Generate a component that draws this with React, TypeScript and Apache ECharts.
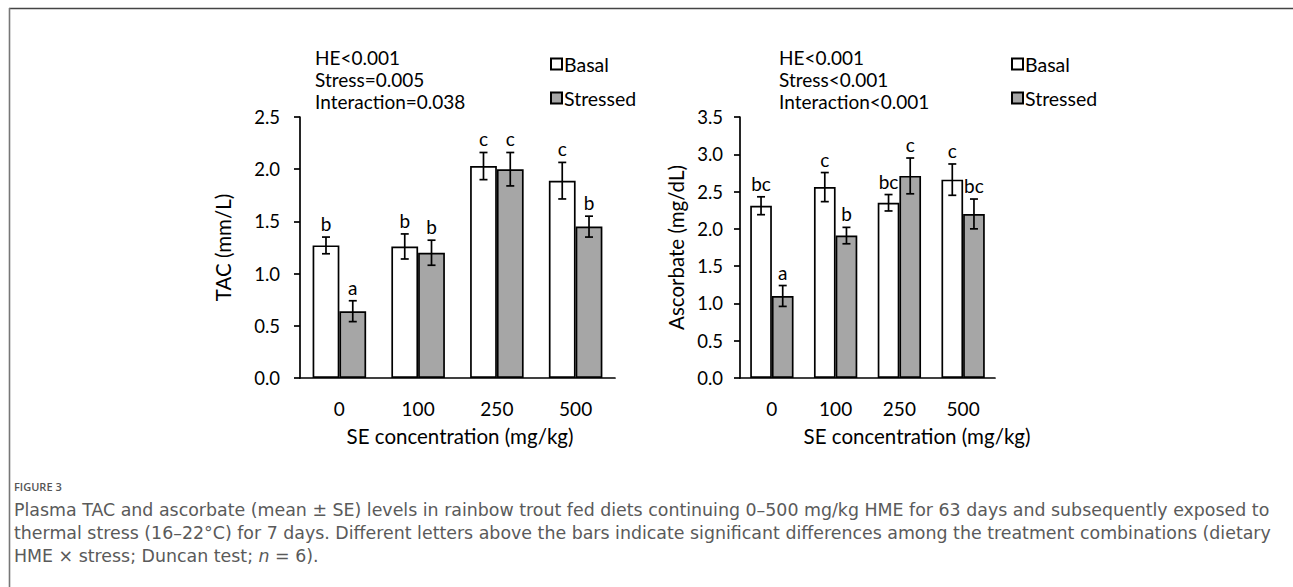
import React, { useEffect, useRef } from "react";
import * as echarts from "echarts";

const categories = ["0", "100", "250", "500"];

const tacBasal = [1.27, 1.26, 2.03, 1.89];
const tacBasalSE = [0.08, 0.12, 0.13, 0.175];
const tacStressed = [0.64, 1.2, 2.0, 1.45];
const tacStressedSE = [0.1, 0.12, 0.16, 0.1];
const tacBasalLetters = ["b", "b", "c", "c"];
const tacStressedLetters = ["a", "b", "c", "b"];

const ascBasal = [2.31, 2.56, 2.35, 2.66];
const ascBasalSE = [0.12, 0.195, 0.11, 0.21];
const ascStressed = [1.1, 1.91, 2.71, 2.2];
const ascStressedSE = [0.14, 0.11, 0.24, 0.2];
const ascBasalLetters = ["bc", "c", "bc", "c"];
const ascStressedLetters = ["a", "b", "c", "bc"];

const tacTicks = { min: 0, max: 2.5, interval: 0.5 };
const ascTicks = { min: 0, max: 3.5, interval: 0.5 };

const tacStats = ["HE<0.001", "Stress=0.005", "Interaction=0.038"];
const ascStats = ["HE<0.001", "Stress<0.001", "Interaction<0.001"];

const FONT = "Lato";
const CAPFONT = "DejaVu Sans";
const STRESSED_COLOR = "#a6a6a6";

function errorSeries(
  name: string,
  gridIdx: number,
  values: number[],
  se: number[],
  letters: string[],
  offset: number
) {
  return {
    type: "custom",
    name: name + "_err",
    xAxisIndex: gridIdx,
    yAxisIndex: gridIdx,
    z: 5,
    silent: true,
    data: values.map((v, i) => [i, v, se[i]]),
    renderItem: (params: any, api: any) => {
      const i = api.value(0);
      const v = api.value(1);
      const s = api.value(2);
      const band = api.size([1, 0])[0];
      const c = api.coord([i, v]);
      const cx = c[0] + offset * band;
      const top = api.coord([i, v + s])[1];
      const bot = api.coord([i, v - s])[1];
      const cap = 4;
      const ls = { stroke: "#000", lineWidth: 1.7 };
      return {
        type: "group",
        children: [
          { type: "line", shape: { x1: cx, y1: top, x2: cx, y2: bot }, style: ls },
          { type: "line", shape: { x1: cx - cap, y1: top, x2: cx + cap, y2: top }, style: ls },
          { type: "line", shape: { x1: cx - cap, y1: bot, x2: cx + cap, y2: bot }, style: ls },
          {
            type: "text",
            style: {
              text: letters[params.dataIndex],
              x: cx,
              y: top - 4,
              align: "center",
              verticalAlign: "bottom",
              fontFamily: FONT,
              fontSize: 19,
              fill: "#000",
            },
          },
        ],
      };
    },
  };
}

function statTexts(lines: string[], x: number) {
  return lines.map((t, k) => ({
    type: "text",
    x,
    y: 57 + k * 22,
    style: { text: t, fontFamily: FONT, fontSize: 19, fill: "#000", verticalAlign: "middle" },
  }));
}

function legendAt(left: number) {
  return {
    data: ["Basal", "Stressed"],
    orient: "vertical",
    left,
    top: 49,
    icon: "rect",
    itemWidth: 11,
    itemHeight: 11,
    itemGap: 14,
    selectedMode: false,
    textStyle: { fontFamily: FONT, fontSize: 19.5, color: "#000", padding: [0, 0, 0, -3] },
  };
}

export default function App() {
  const ref = useRef<HTMLDivElement>(null);
  useEffect(() => {
    if (!ref.current) return;
    const chart = echarts.init(ref.current, null, { renderer: "svg" });

    const axisLine = { show: true, lineStyle: { color: "#000", width: 1.7 } };
    const makeX = (gridIndex: number, margin: number) => ({
      type: "category",
      gridIndex,
      data: categories,
      axisLine,
      axisTick: { show: false },
      axisLabel: { fontFamily: FONT, fontSize: 19, color: "#000", margin },
      splitLine: { show: false },
    });
    const makeY = (gridIndex: number, ticks: any, name: string, nameGap: number, margin: number) => ({
      type: "value",
      gridIndex,
      ...ticks,
      name,
      nameLocation: "middle",
      nameGap,
      nameTextStyle: { fontFamily: FONT, fontSize: 20.5, color: "#000" },
      axisLine,
      axisTick: { show: true, inside: false, length: 6, lineStyle: { color: "#000", width: 1.7 } },
      axisLabel: {
        fontFamily: FONT,
        fontSize: 18.5,
        color: "#000",
        margin,
        formatter: (v: number) => v.toFixed(1),
      },
      splitLine: { show: false },
    });

    const barBase = (name: string, gridIdx: number, data: number[], color: string) => ({
      type: "bar",
      name,
      xAxisIndex: gridIdx,
      yAxisIndex: gridIdx,
      data,
      barWidth: "34%",
      barGap: "0%",
      itemStyle: { color, borderColor: "#000", borderWidth: 1.7 },
      silent: true,
    });

    const captionStyle = { fontFamily: CAPFONT, fontSize: 17.4, fill: "#5a5a5a" };

    chart.setOption({
      animation: false,
      backgroundColor: "#fff",
      grid: [
        { left: 300, top: 117, width: 315, height: 261 },
        { left: 740, top: 117, width: 255, height: 261 },
      ],
      xAxis: [makeX(0, 21), makeX(1, 21)],
      yAxis: [
        makeY(0, tacTicks, "TAC (mm/L)", 67, 20),
        makeY(1, ascTicks, "Ascorbate (mg/dL)", 54, 17),
      ],
      legend: [legendAt(545), legendAt(1006)],
      series: [
        barBase("Basal", 0, tacBasal, "#fff"),
        barBase("Stressed", 0, tacStressed, STRESSED_COLOR),
        errorSeries("Basal", 0, tacBasal, tacBasalSE, tacBasalLetters, -0.17),
        errorSeries("Stressed", 0, tacStressed, tacStressedSE, tacStressedLetters, 0.17),
        barBase("Basal", 1, ascBasal, "#fff"),
        barBase("Stressed", 1, ascStressed, STRESSED_COLOR),
        errorSeries("Basal", 1, ascBasal, ascBasalSE, ascBasalLetters, -0.17),
        errorSeries("Stressed", 1, ascStressed, ascStressedSE, ascStressedLetters, 0.17),
      ],
      graphic: [
        { type: "line", shape: { x1: 9, y1: 8.5, x2: 1293, y2: 8.5 }, style: { stroke: "#444", lineWidth: 1.6 } },
        { type: "line", shape: { x1: 9.5, y1: 8, x2: 9.5, y2: 587 }, style: { stroke: "#777", lineWidth: 1.6 } },
        ...statTexts(tacStats, 315),
        ...statTexts(ascStats, 779),
        {
          type: "text",
          x: 460,
          y: 436,
          style: { text: "SE concentration (mg/kg)", fontFamily: FONT, fontSize: 20.5, fill: "#000", align: "center", verticalAlign: "middle" },
        },
        {
          type: "text",
          x: 917,
          y: 436,
          style: { text: "SE concentration (mg/kg)", fontFamily: FONT, fontSize: 20.5, fill: "#000", align: "center", verticalAlign: "middle" },
        },
        {
          type: "text",
          x: 14,
          y: 486,
          style: { text: "FIGURE 3", fontFamily: "Open Sans", fontSize: 11, fontWeight: 600, fill: "#555", verticalAlign: "middle" },
        },
        {
          type: "text",
          x: 14,
          y: 510,
          style: {
            ...captionStyle,
            verticalAlign: "middle",
            text: "Plasma TAC and ascorbate (mean \u00b1 SE) levels in rainbow trout fed diets continuing 0\u2013500 mg/kg HME for 63 days and subsequently exposed to",
          },
        },
        {
          type: "text",
          x: 14,
          y: 533,
          style: {
            ...captionStyle,
            verticalAlign: "middle",
            text: "thermal stress (16\u201322\u00b0C) for 7 days. Different letters above the bars indicate significant differences among the treatment combinations (dietary",
          },
        },
        {
          type: "text",
          x: 14,
          y: 556,
          style: {
            ...captionStyle,
            verticalAlign: "middle",
            text: "HME \u00d7 stress; Duncan test; {i|n} = 6).",
            rich: { i: { ...captionStyle, fontStyle: "italic" } },
          },
        },
      ],
    });
    return () => chart.dispose();
  }, []);
  return (
    <div
      ref={ref}
      style={{ position: "absolute", left: 0, top: 0, width: 1293, height: 587, background: "#fff" }}
    />
  );
}
